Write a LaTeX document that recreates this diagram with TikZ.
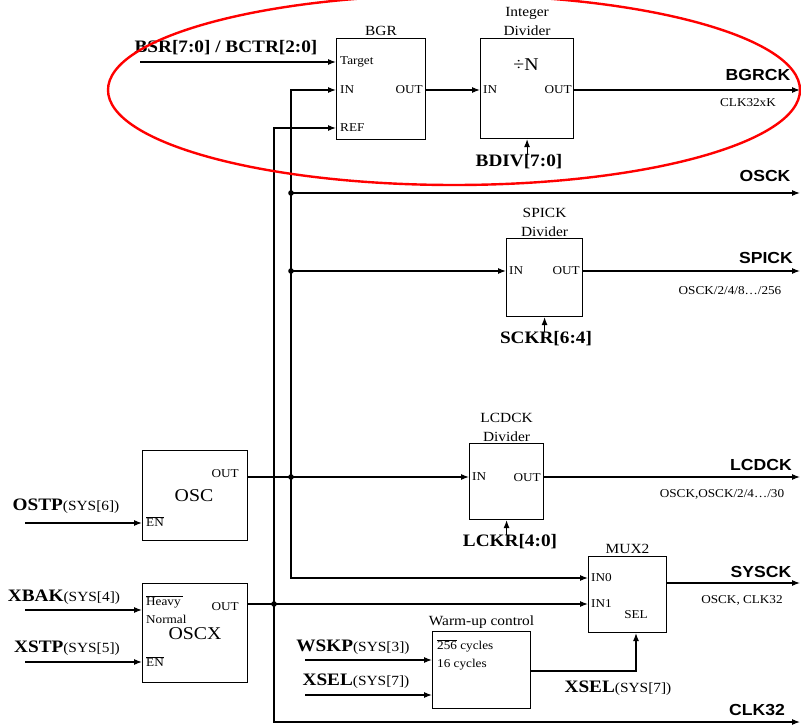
\documentclass[tikz,border=0pt]{standalone}
\usepackage{fontspec}
\setmainfont[FakeStretch=1.1]{Liberation Serif}
\setsansfont[FakeStretch=1.1]{Liberation Sans}
\usetikzlibrary{arrows.meta, positioning}

\newcommand{\sysreg}[1]{{\mdseries\fontsize{14}{16}\selectfont(#1)}}
\newcommand{\barred}[1]{$\overline{\mbox{#1}}$}

\begin{document}
\begin{tikzpicture}[
    x=1pt, y=-1pt,
    node distance=1pt,
    box/.style={
        draw,
        line width=1.1pt,
        anchor=north west,
        inner sep=0pt
    },
    ttl/.style={
        font=\fontsize{14}{19}\selectfont,
        align=center,
        inner sep=1pt
    },
    port/.style={
        font=\fontsize{12}{14}\selectfont,
        inner sep=1pt
    },
    big/.style={
        font=\fontsize{18}{20}\selectfont
    },
    sig/.style={
        font=\fontsize{17.5}{20}\selectfont\bfseries,
        inner sep=0pt
    },
    clk/.style={
        font=\fontsize{16}{18}\selectfont\sffamily\bfseries,
        inner sep=0pt
    },
    note/.style={
        font=\fontsize{12}{14}\selectfont,
        inner sep=0pt
    },
    arrow/.style={
        -{Latex[length=8pt,width=6pt]},
        line width=1.1pt
    }
]
\useasboundingbox (0,0) rectangle (801,727);

% blocks
\node[box, minimum width=89pt, minimum height=101pt] (bgr) at (336,38) {};
\node[box, minimum width=93pt, minimum height=100pt] (div) at (480,38) {};
\node[box, minimum width=76pt, minimum height=78pt] (spi) at (506,238) {};
\node[box, minimum width=74pt, minimum height=76pt] (lcd) at (469,443) {};
\node[box, minimum width=78pt, minimum height=76pt] (mux) at (588,556) {};
\node[box, minimum width=98pt, minimum height=77pt] (warm) at (432,631) {};
\node[box, minimum width=105pt, minimum height=90pt] (osc) at (142,450) {};
\node[box, minimum width=105pt, minimum height=99pt] (oscx) at (142,583) {};

\node[ttl, above=of bgr] (bgr-t) {BGR};
\node[ttl, above=of div] (div-t) {Integer\\Divider};
\node[ttl, above=0pt of spi] (spi-t) {SPICK\\Divider};
\node[ttl, above=0pt of lcd] (lcd-t) {LCDCK\\Divider};
\node[ttl, above=of mux] (mux-t) {MUX2};
\node[ttl, above=of warm] (warm-t) {Warm-up control};

% ports
\node[port, anchor=west] (bgr-tg) at (339,62) {Target};
\node[port, anchor=west] (bgr-in) at (339,90) {IN};
\node[port, anchor=west] (bgr-ref) at (339,128) {REF};
\node[port, anchor=east] (bgr-out) at (424,90) {OUT};

\node[big] (div-n) at (526,65) {÷N};
\node[port, anchor=west] (div-in) at (482,90) {IN};
\node[port, anchor=east] (div-out) at (573,90) {OUT};

\node[port, anchor=west] (spi-in) at (508,271) {IN};
\node[port, anchor=east] (spi-out) at (581,271) {OUT};

\node[port, anchor=west] (lcd-in) at (471,477) {IN};
\node[port, anchor=east] (lcd-out) at (542,478) {OUT};

\node[port, anchor=west] (mux-in0) at (590,578) {IN0};
\node[port, anchor=west] (mux-in1) at (590,604) {IN1};
\node[port] (mux-sel) at (636,615) {SEL};

\node[port, anchor=west] (warm-a) at (436,646) {\barred{256} cycles};
\node[port, anchor=west] (warm-b) at (436,665) {16 cycles};

\node[port, anchor=east] (osc-out) at (240,474) {OUT};
\node[big] (osc-n) at (194,496) {OSC};
\node[port, anchor=west] (osc-en) at (145,522) {\barred{EN}};

\node[port, anchor=west] (oscx-h) at (145,602) {\barred{Heavy\,}};
\node[port, anchor=west] (oscx-nm) at (145,619) {Normal};
\node[big] (oscx-n) at (195,634) {OSCX};
\node[port, anchor=east] (oscx-out) at (240,607) {OUT};
\node[port, anchor=west] (oscx-en) at (145,662) {\barred{EN}};

% control inputs
\node[sig] (bsr) at (226,48) {BSR[7:0] / BCTR[2:0]};
\node[sig] (bdiv) at (519,162) {BDIV[7:0]};
\node[sig] (sckr) at (546,339) {SCKR[6:4]};
\node[sig] (lckr) at (510,542) {LCKR[4:0]};
\node[sig] (ostp) at (66,506) {OSTP\sysreg{SYS[6]}};
\node[sig] (xbak) at (64,597) {XBAK\sysreg{SYS[4]}};
\node[sig] (xstp) at (67,648) {XSTP\sysreg{SYS[5]}};
\node[sig] (wskp) at (353,647) {WSKP\sysreg{SYS[3]}};
\node[sig] (xsel) at (356,681) {XSEL\sysreg{SYS[7]}};
\node[sig] (xsel-o) at (618,688) {XSEL\sysreg{SYS[7]}};

% clock outputs
\node[clk] (bgrck) at (758,75) {BGRCK};
\node[note] (bgrck-n) at (748,103) {CLK32xK};
\node[clk] (osck) at (765,176) {OSCK};
\node[clk] (spick) at (766,258) {SPICK};
\node[note] (spick-n) at (730,291) {OSCK/2/4/8…/256};
\node[clk] (lcdck) at (761,465) {LCDCK};
\node[note] (lcdck-n) at (722,494) {OSCK,OSCK/2/4…/30};
\node[clk] (sysck) at (761,572) {SYSCK};
\node[note] (sysck-n) at (742,600) {OSCK, CLK32};
\node[clk] (clk32) at (757,710) {CLK32};

% free ends and junctions
\coordinate (bsr-s) at (140,62);
\coordinate (ostp-s) at (25,523);
\coordinate (xbak-s) at (25,610);
\coordinate (xstp-s) at (25,662);
\coordinate (wskp-s) at (305,660);
\coordinate (xsel-s) at (305,695);
\coordinate (bgrck-e) at (800,90);
\coordinate (osck-e) at (800,193);
\coordinate (spick-e) at (800,271);
\coordinate (lcdck-e) at (800,477);
\coordinate (sysck-e) at (800,583);
\coordinate (clk32-e) at (800,722);
\coordinate (jb-osck) at (291,193);
\coordinate (jb-spi) at (291,271);
\coordinate (jb-osc) at (291,477);
\coordinate (ja-oscx) at (274,604);

% connections
\draw[arrow] (bsr-s) -- (bgr.west |- bgr-tg);
\draw[arrow] (bgr.east |- bgr-out) -- (div.west |- div-in);
\draw[arrow] (div.east |- div-out) -- (bgrck-e);
\draw[arrow] (div.south |- bdiv.north) -- (div.south);

\draw[arrow] (jb-osck) -- (osck-e);
\draw[arrow] (jb-spi) -- (spi.west |- jb-spi);
\draw[arrow] (spi.east |- jb-spi) -- (spick-e);
\draw[arrow] (spi.south |- sckr.north) -- (spi.south);

\draw[arrow] (osc.east |- jb-osc) -- (lcd.west |- jb-osc);
\draw[arrow] (lcd.east |- jb-osc) -- (lcdck-e);
\draw[arrow] (lcd.south |- lckr.north) -- (lcd.south);

\draw[arrow] (jb-osc) |- (bgr.west |- bgr-in);
\draw[arrow] (jb-osc) |- (mux.west |- mux-in0);

\draw[arrow] (oscx.east |- ja-oscx) -- (mux.west |- ja-oscx);
\draw[arrow] (ja-oscx) |- (bgr.west |- bgr-ref);
\draw[arrow] (ja-oscx) |- (clk32-e);

\draw[arrow] (mux.east |- sysck-e) -- (sysck-e);
\draw[arrow] (warm.east |- 0,671) -| (mux.south -| mux-sel);
\draw[arrow] (wskp-s) -- (warm.west |- wskp-s);
\draw[arrow] (xsel-s) -- (warm.west |- xsel-s);

\draw[arrow] (ostp-s) -- (osc.west |- ostp-s);
\draw[arrow] (xbak-s) -- (oscx.west |- xbak-s);
\draw[arrow] (xstp-s) -- (oscx.west |- xstp-s);

\foreach \j in {jb-osck, jb-spi, jb-osc, ja-oscx}
    \fill (\j) circle (2.8pt);

% highlight
\draw[red, line width=2.4pt] (454,90) ellipse [x radius=346pt, y radius=95pt];

\end{tikzpicture}
\end{document}
